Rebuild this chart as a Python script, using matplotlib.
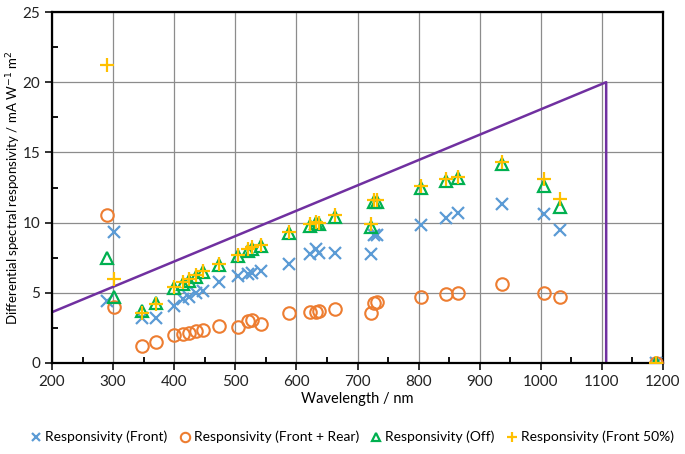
import matplotlib
matplotlib.use("Agg")
import matplotlib.pyplot as plt
from matplotlib.ticker import MultipleLocator

plt.rcParams['font.family'] = ['Lato', 'DejaVu Sans']

# wavelengths (nm) of the measured points
wavelength = [289.5, 301.5, 346.8, 370.7, 400.2, 413.9, 424.7, 435.2, 447.7,
              473.3, 503.9, 521.3, 527.8, 542.6, 587.9, 621.7, 632.0, 636.5,
              662.7, 722.6, 727.0, 732.4, 803.9, 844.8, 865.0, 936.0, 1005.2,
              1032.0, 1188.0]

resp_front = [4.44, 9.35, 3.18, 3.23, 4.06, 4.58, 4.72, 4.96, 5.15,
              5.79, 6.22, 6.32, 6.43, 6.57, 7.05, 7.76, 8.10, 7.81,
              7.86, 7.79, 9.12, 9.12, 9.83, 10.30, 10.70, 11.32, 10.61,
              9.47, 0.0]

resp_front_rear = [10.54, 3.99, 1.23, 1.50, 1.97, 2.07, 2.16, 2.30, 2.35,
                   2.66, 2.56, 2.97, 3.06, 2.78, 3.56, 3.63, 3.65, 3.73,
                   3.82, 3.54, 4.25, 4.37, 4.72, 4.91, 5.01, 5.60, 4.99,
                   4.68, 0.0]

resp_off = [7.46, 4.72, 3.73, 4.25, 5.32, 5.65, 5.87, 6.15, 6.48,
            6.98, 7.62, 8.00, 8.14, 8.33, 9.24, 9.78, 9.95, 9.90,
            10.42, 9.66, 11.49, 11.49, 12.44, 12.98, 13.20, 14.15, 12.60,
            11.13, 0.0]

resp_front50 = [21.23, 5.96, 3.54, 4.20, 5.40, 5.75, 5.97, 6.25, 6.58,
                7.08, 7.72, 8.10, 8.24, 8.43, 9.34, 9.88, 10.05, 10.00,
                10.55, 9.90, 11.60, 11.60, 12.60, 13.08, 13.27, 14.34, 13.10,
                11.66, 0.0]

# ideal responsivity limit line
limit_x = [200, 1107, 1107]
limit_y = [3.62, 20.0, 0.0]

fig = plt.figure(figsize=(6.85, 4.54), dpi=100)
ax = fig.add_axes([52 / 685, 91 / 454, 611 / 685, 351 / 454])

ax.plot(limit_x, limit_y, color='#7030A0', lw=1.8, zorder=2)

ax.plot(wavelength, resp_front, ls='none', marker='x', ms=8, mew=1.6,
        color='#5B9BD5', label='Responsivity (Front)', zorder=3)
ax.plot(wavelength, resp_front_rear, ls='none', marker='o', ms=9, mew=1.5,
        mfc='none', color='#ED7D31', label='Responsivity (Front + Rear)', zorder=3)
ax.plot(wavelength, resp_off, ls='none', marker='^', ms=8, mew=1.6,
        mfc='none', color='#00B050', label='Responsivity (Off)', zorder=4)
ax.plot(wavelength, resp_front50, ls='none', marker='+', ms=10, mew=1.6,
        color='#FFC000', label='Responsivity (Front 50%)', zorder=5)

ax.set_xlim(200, 1200)
ax.set_ylim(0, 25)
ax.xaxis.set_major_locator(MultipleLocator(100))
ax.xaxis.set_minor_locator(MultipleLocator(50))
ax.yaxis.set_major_locator(MultipleLocator(5))
ax.yaxis.set_minor_locator(MultipleLocator(2.5))
ax.tick_params(which='major', direction='out', length=5, width=1.3,
               labelsize=11, colors='#222222')
ax.tick_params(which='minor', direction='in', length=4, width=1.3)

ax.grid(True, which='major', color='#8c8c8c', lw=0.9)
ax.set_axisbelow(True)
for s in ax.spines.values():
    s.set_color('black')
    s.set_linewidth(1.6)

ax.set_xlabel('Wavelength / nm', fontsize=10.5, labelpad=2)
ax.set_ylabel('Differential spectral responsivity / mA W$^{-1}$ m$^{2}$',
              fontsize=9.5)
ax.yaxis.set_label_coords(-0.048, 0.5)

fig.legend(loc='center', bbox_to_anchor=(0.515, 0.037), ncol=4, frameon=False,
           fontsize=10, markerscale=0.75, handlelength=0.7,
           handletextpad=0.3, columnspacing=0.9)

fig.savefig('out.png', dpi=100)
